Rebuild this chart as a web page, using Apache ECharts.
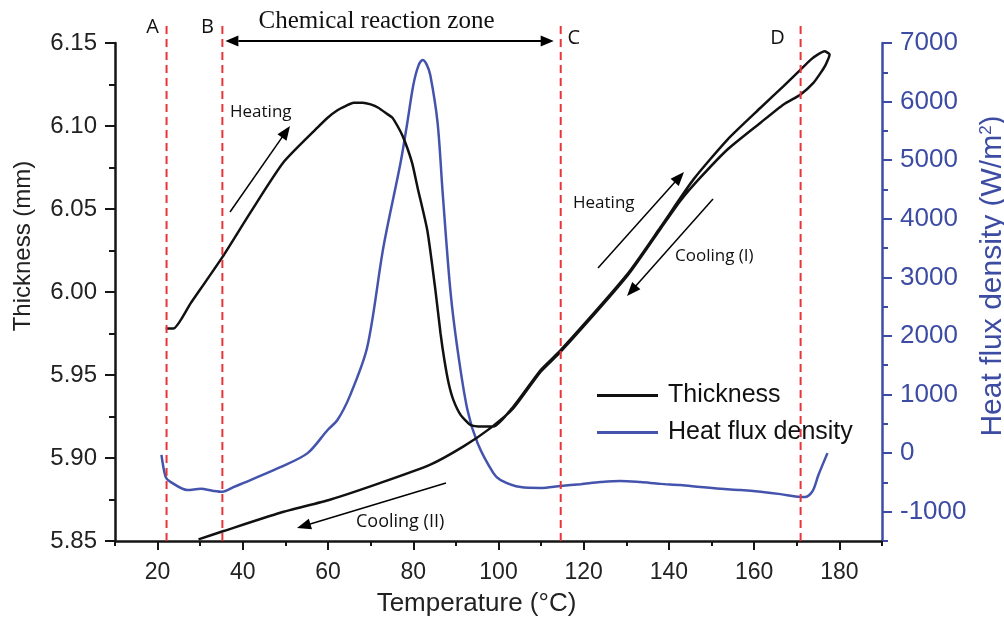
<!DOCTYPE html>
<html><head><meta charset="utf-8">
<script src="https://cdn.jsdelivr.net/npm/echarts@6/dist/echarts.min.js"></script>
<style>html,body{margin:0;padding:0;background:#fff}#c{width:1004px;height:621px}</style>
</head><body><div id="c"></div><script>
// ---- data ----
const thickTemp = [21.9, 23.7, 27.7, 35.2, 41.8, 49.5, 57.5, 59.9, 62.2, 64.1, 66.0, 68.1, 70.0, 71.8, 74.0, 75.1, 76.3, 77.5, 78.7, 79.8, 81.0, 83.3, 85.2, 86.4, 87.3, 88.3, 89.4, 91.1, 93.4, 96.2, 98.8, 103.5, 109.9, 114.6, 130.3, 138.0, 145.8, 153.8, 161.5, 166.9, 170.9, 173.3, 174.9, 176.5, 177.7, 176.8, 175.6, 173.9, 170.9, 166.9, 161.5, 153.8, 147.4, 142.7, 138.0, 130.3, 114.6, 109.9, 103.5, 98.1, 91.8, 84.0, 72.3, 60.6, 48.8, 35.5, 29.6];
const thickMM = [5.978, 5.978, 5.993, 6.021, 6.048, 6.078, 6.099, 6.105, 6.1095, 6.112, 6.114, 6.114, 6.113, 6.111, 6.107, 6.105, 6.100, 6.094, 6.086, 6.077, 6.063, 6.037, 6.001, 5.975, 5.959, 5.945, 5.935, 5.926, 5.920, 5.919, 5.919, 5.931, 5.953, 5.965, 6.011, 6.039, 6.068, 6.092, 6.111, 6.124, 6.134, 6.140, 6.143, 6.145, 6.143, 6.137, 6.132, 6.126, 6.119, 6.113, 6.102, 6.086, 6.069, 6.055, 6.038, 6.010, 5.964, 5.952, 5.930, 5.918, 5.907, 5.896, 5.885, 5.875, 5.867, 5.856, 5.851];
const heatTemp = [20.9, 21.9, 23.0, 27.0, 30.1, 33.1, 35.2, 37.8, 41.8, 48.8, 55.2, 59.9, 62.2, 65.2, 69.2, 73.0, 77.0, 78.6, 80.0, 81.2, 82.2, 83.1, 84.0, 85.7, 86.9, 88.7, 90.4, 92.7, 95.1, 98.8, 100.5, 105.2, 109.9, 114.6, 119.3, 123.9, 128.6, 133.3, 138.0, 142.7, 147.4, 152.1, 156.8, 161.5, 166.2, 169.7, 172.0, 173.7, 175.1, 177.2];
const heatFlux = [-30, -410, -490, -630, -610, -645, -660, -580, -460, -240, 0, 395, 565, 990, 1810, 3520, 4950, 5640, 6280, 6610, 6710, 6640, 6450, 5640, 4440, 2780, 1760, 740, 170, -340, -460, -580, -595, -560, -530, -495, -475, -495, -525, -545, -580, -610, -630, -660, -700, -740, -750, -650, -370, 0];
const xMajorTicks = [20, 40, 60, 80, 100, 120, 140, 160, 180];
const rightMajorTicks = [-1000, 0, 1000, 2000, 3000, 4000, 5000, 6000, 7000];
const zoneTemps = [22.1, 35.2, 114.6, 170.9];
const zoneNames = ['A', 'B', 'C', 'D'];
const seriesNames = ['Thickness', 'Heat flux density'];

// ---- styles ----
const SANS = 'Liberation Sans';
const BLUE = '#3d4ca3';
const LINEBLUE = '#4454ad';
const AX = '#151515';
const RED = '#e8353a';

const chart = echarts.init(document.getElementById('c'), null, {renderer: 'canvas'});
const option = {
  animation: false,
  backgroundColor: '#fff',
  grid: {left: 115, right: 122, top: 43, bottom: 80, containLabel: false, outerBoundsMode: 'none'},
  legend: {
    left: 597, top: 383, orient: 'vertical', padding: 0,
    icon: 'rect', itemWidth: 61, itemHeight: 3, itemGap: 12,
    textStyle: {fontFamily: SANS, fontSize: 25, color: '#111', padding: [0, 0, 0, 5]},
    data: seriesNames
  },
  xAxis: [{
    type: 'value', min: 10, max: 190, interval: 10,
    axisLine: {onZero: false, lineStyle: {color: AX, width: 2.5}},
    axisTick: {length: 5, lineStyle: {color: AX, width: 2}},
    axisLabel: {formatter: v => (v % 20 === 0 && v >= 20 && v <= 180) ? String(v) : '',
      fontFamily: SANS, fontSize: 23, color: '#222', margin: 20},
    splitLine: {show: false},
    name: 'Temperature (°C)', nameLocation: 'middle', nameGap: 50,
    nameTextStyle: {fontFamily: SANS, fontSize: 26, color: '#222', padding: [0, 44, 0, 0]}
  }, {
    type: 'value', min: 10, max: 190, position: 'bottom', offset: 0,
    axisLine: {show: false, onZero: false},
    axisTick: {customValues: xMajorTicks, length: 9, lineStyle: {color: AX, width: 2}},
    axisLabel: {show: false}, splitLine: {show: false}
  }],
  yAxis: [{
    type: 'value', min: 5.85, max: 6.15, interval: 0.05, position: 'left',
    axisLine: {show: true, onZero: false, lineStyle: {color: AX, width: 2.5}},
    axisTick: {show: true, length: 10, lineStyle: {color: AX, width: 2}},
    minorTick: {show: true, splitNumber: 2, length: 6, lineStyle: {color: AX, width: 2}},
    axisLabel: {formatter: v => v.toFixed(2), fontFamily: SANS, fontSize: 24, color: '#222', margin: 18},
    splitLine: {show: false},
    name: 'Thickness (mm)', nameLocation: 'middle', nameGap: 80,
    nameTextStyle: {fontFamily: SANS, fontSize: 24, color: '#222', padding: [0, 0, 0, 92]}
  }, {
    type: 'value', min: -1500, max: 7000, interval: 500, position: 'right',
    axisLine: {show: true, onZero: false, lineStyle: {color: BLUE, width: 2.5}},
    axisTick: {show: true, length: 6, lineStyle: {color: BLUE, width: 2}},
    axisLabel: {formatter: v => (v % 1000 === 0) ? String(v) : '',
      fontFamily: SANS, fontSize: 26, color: BLUE, margin: 18},
    splitLine: {show: false},
    name: '{a|Heat flux density (W/m}{s|2}{a|)}', nameLocation: 'middle', nameGap: 91,
    nameTextStyle: {padding: [0, 0, 0, 32], rich: {
      a: {fontFamily: SANS, fontSize: 30, color: BLUE},
      s: {fontFamily: SANS, fontSize: 17, color: BLUE, verticalAlign: 'top', padding: [0, 0, 13, 0]}
    }}
  }, {
    type: 'value', min: -1500, max: 7000, position: 'right', offset: 0,
    axisLine: {show: false, onZero: false},
    axisTick: {show: true, customValues: rightMajorTicks, length: 10, lineStyle: {color: BLUE, width: 2}},
    axisLabel: {show: false}, splitLine: {show: false}
  }],
  series: [{
    name: seriesNames[0], type: 'line', xAxisIndex: 0, yAxisIndex: 0,
    data: thickTemp.map((t, i) => [t, thickMM[i]]),
    showSymbol: false, symbol: 'none', smooth: 0.2,
    lineStyle: {color: '#111', width: 2.5}, itemStyle: {color: '#111'}, z: 3
  }, {
    name: seriesNames[1], type: 'line', xAxisIndex: 0, yAxisIndex: 1,
    data: heatTemp.map((t, i) => [t, heatFlux[i]]),
    showSymbol: false, symbol: 'none', smooth: 0.3,
    lineStyle: {color: LINEBLUE, width: 2.5}, itemStyle: {color: LINEBLUE}, z: 2
  }]
};
chart.setOption(option);

// ---- annotations ----
function arrow(x1, y1, x2, y2, len, hw, w, both) {
  const els = [];
  const a = Math.atan2(y2 - y1, x2 - x1);
  const c = Math.cos(a), s = Math.sin(a);
  const head = (tx, ty, dir) => {
    const bx = tx - dir * len * c, by = ty - dir * len * s;
    return {type: 'polygon', shape: {points: [[tx, ty], [bx + hw * s, by - hw * c], [bx - hw * s, by + hw * c]]},
      style: {fill: '#000'}, z: 10};
  };
  const sx = both ? x1 + len * c : x1, sy = both ? y1 + len * s : y1;
  els.push({type: 'line', shape: {x1: sx, y1: sy, x2: x2 - len * c * 0.8, y2: y2 - len * s * 0.8},
    style: {stroke: '#000', lineWidth: w}, z: 10});
  els.push(head(x2, y2, 1));
  if (both) els.push(head(x1, y1, -1));
  return els;
}
function label(txt, x, y, size, family, align) {
  return {type: 'text', x: x, y: y, z: 11,
    style: {text: txt, fontSize: size, fontFamily: family, fill: '#111', textAlign: align || 'left', textVerticalAlign: 'middle'}};
}
const yBottom = chart.convertToPixel({yAxisIndex: 0}, 5.85);
const letterDx = [-14, -15, 13, -23];
const letterY = [27, 27, 38, 38];
const g = [];
zoneTemps.forEach((t, i) => {
  const x = chart.convertToPixel({xAxisIndex: 0}, t);
  g.push({type: 'line', shape: {x1: x, y1: 26, x2: x, y2: yBottom + 2},
    style: {stroke: RED, lineWidth: 2, lineDash: [8, 5]}, z: 9});
  g.push(label(zoneNames[i], x + letterDx[i], letterY[i], 20, 'Open Sans', 'center'));
});
const xB = chart.convertToPixel({xAxisIndex: 0}, zoneTemps[1]);
const xC = chart.convertToPixel({xAxisIndex: 0}, zoneTemps[2]);
g.push(...arrow(xB + 3, 41, xC - 7, 41, 13, 5.5, 2, true));
g.push(label('Chemical reaction zone', (xB + xC) / 2 - 15, 21, 25, 'Liberation Serif', 'center'));
g.push(...arrow(230, 212, 290, 126, 14, 5.5, 1.5, false));
g.push(label('Heating', 230, 112, 17, 'Open Sans'));
g.push(...arrow(598, 268, 684, 172, 14, 5.5, 1.5, false));
g.push(label('Heating', 573, 203, 17, 'Open Sans'));
g.push(...arrow(713, 199, 627, 296, 14, 5.5, 1.5, false));
g.push(label('Cooling (I)', 675, 256, 17, 'Open Sans'));
g.push(...arrow(446, 483, 297, 528, 14, 5.5, 1.5, false));
g.push(label('Cooling (II)', 356, 522, 18, 'Open Sans'));
chart.setOption({graphic: {elements: g}});
</script></body></html>
